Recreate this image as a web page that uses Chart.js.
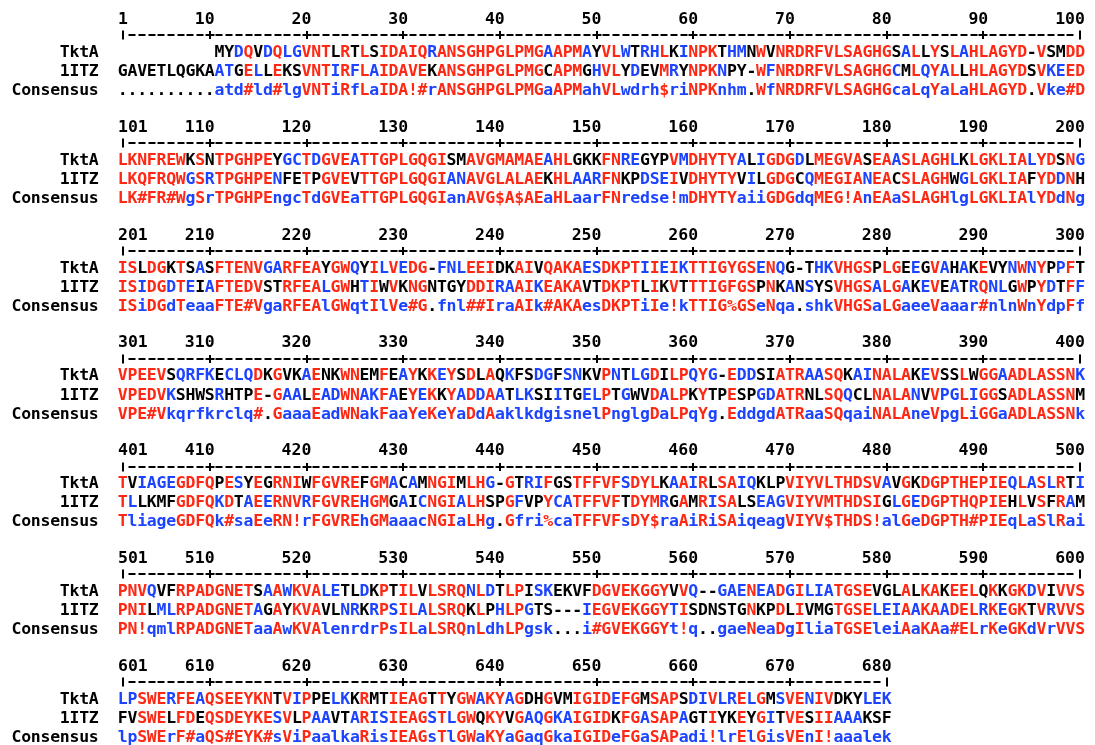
<!DOCTYPE html>
<html>
<head>
<meta charset="utf-8">
<title>TktA / 1ITZ alignment</title>
<script src="https://cdn.jsdelivr.net/npm/chart.js@4.4.1/dist/chart.umd.min.js"></script>
<style>
  html, body { margin: 0; padding: 0; background: #ffffff; }
  canvas { display: block; }
</style>
</head>
<body>
<canvas id="aln" width="1095" height="745"></canvas>
<script>
// Aligned sequences, one string per block of 100 columns (leading blanks = no residue)
const tktA = [
  "          MYDQVDQLGVNTLRTLSIDAIQRANSGHPGLPMGAAPMAYVLWTRHLKINPKTHMNWVNRDRFVLSAGHGSALLYSLAHLAGYD-VSMDD",
  "LKNFREWKSNTPGHPEYGCTDGVEATTGPLGQGISMAVGMAMAEAHLGKKFNREGYPVMDHYTYALIGDGDLMEGVASEAASLAGHLKLGKLIALYDSNG",
  "ISLDGKTSASFTENVGARFEAYGWQYILVEDG-FNLEEIDKAIVQAKAESDKPTIIEIKTTIGYGSENQG-THKVHGSPLGEEGVAHAKEVYNWNYPPFT",
  "VPEEVSQRFKECLQDKGVKAENKWNEMFEAYKKEYSDLAQKFSDGFSNKVPNTLGDILPQYG-EDDSIATRAASQKAINALAKEVSSLWGGAADLASSNK",
  "TVIAGEGDFQPESYEGRNIWFGVREFGMACAMNGIMLHG-GTRIFGSTFFVFSDYLKAAIRLSAIQKLPVIYVLTHDSVAVGKDGPTHEPIEQLASLRTI",
  "PNVQVFRPADGNETSAAWKVALETLDKPTILVLSRQNLDTLPISKEKVFDGVEKGGYVVQ--GAENEADGILIATGSEVGLALKAKEELQKKGKDVIVVS",
  "LPSWERFEAQSEEYKNTVIPPELKKRMTIEAGTTYGWAKYAGDHGVMIGIDEFGMSAPSDIVLRELGMSVENIVDKYLEK"
];
const itz = [
  "GAVETLQGKAATGELLEKSVNTIRFLAIDAVEKANSGHPGLPMGCAPMGHVLYDEVMRYNPKNPY-WFNRDRFVLSAGHGCMLQYALLHLAGYDSVKEED",
  "LKQFRQWGSRTPGHPENFETPGVEVTTGPLGQGIANAVGLALAEKHLAARFNKPDSEIVDHYTYVILGDGCQMEGIANEACSLAGHWGLGKLIAFYDDNH",
  "ISIDGDTEIAFTEDVSTRFEALGWHTIWVKNGNTGYDDIRAAIKEAKAVTDKPTLIKVTTTIGFGSPNKANSYSVHGSALGAKEVEATRQNLGWPYDTFF",
  "VPEDVKSHWSRHTPE-GAALEADWNAKFAEYEKKYADDAATLKSIITGELPTGWVDALPKYTPESPGDATRNLSQQCLNALANVVPGLIGGSADLASSNM",
  "TLLKMFGDFQKDTAEERNVRFGVREHGMGAICNGIALHSPGFVPYCATFFVFTDYMRGAMRISALSEAGVIYVMTHDSIGLGEDGPTHQPIEHLVSFRAM",
  "PNILMLRPADGNETAGAYKVAVLNRKRPSILALSRQKLPHLPGTS---IEGVEKGGYTISDNSTGNKPDLIVMGTGSELEIAAKAADELRKEGKTVRVVS",
  "FVSWELFDEQSDEYKESVLPAAVTARISIEAGSTLGWQKYVGAQGKAIGIDKFGASAPAGTIYKEYGITVESIIAAAKSF"
];
const consensus = [
  "..........atd#ld#lgVNTiRfLaIDA!#rANSGHPGLPMGaAPMahVLwdrh$riNPKnhm.WfNRDRFVLSAGHGcaLqYaLaHLAGYD.Vke#D",
  "LK#FR#WgSrTPGHPEngcTdGVEaTTGPLGQGIanAVG$A$AEaHLaarFNredse!mDHYTYaiiGDGdqMEG!AnEAaSLAGHlgLGKLIAlYDdNg",
  "ISiDGdTeaaFTE#VgaRFEAlGWqtIlVe#G.fnl##IraAIk#AKAesDKPTiIe!kTTIG%GSeNqa.shkVHGSaLGaeeVaaar#nlnWnYdpFf",
  "VPE#Vkqrfkrclq#.GaaaEadWNakFaaYeKeYaDdAaklkdgisnelPnglgDaLPqYg.EddgdATRaaSQqaiNALAneVpgLiGGaADLASSNk",
  "TliageGDFQk#saEeRN!rFGVREhGMaaacNGIaLHg.Gfri%caTFFVFsDY$raAiRiSAiqeagVIYV$THDS!alGeDGPTH#PIEqLaSlRai",
  "PN!qmlRPADGNETaaAwKVAlenrdrPsILaLSRQnLdhLPgsk...i#GVEKGGYt!q..gaeNeaDgIliaTGSEleiAaKAa#ELrKeGKdVrVVS",
  "lpSWErF#aQS#EYK#sViPaalkaRisIEAGsTlGWaKYaGaqGkaIGIDeFGaSAPadi!lrElGisVEnI!aaalek"
];
const rowLabels = ["TktA", "1ITZ", "Consensus"];
const blockSize = 100;
const tickStep = 10;

// Consensus symbol groups: ! = I/V, $ = L/M, % = F/Y, # = N/D/Q/E/B/Z
const symbolGroups = { "!": "IV", "$": "LM", "%": "FY", "#": "NDQEBZ" };

const RED = "#ff2814";
const BLUE = "#1c44ff";
const BLACK = "#000000";

// Vertical layout in text-line units
const BLOCK_PITCH = 5.645;
const ROW_NUMBERS = -1.73;
const ROW_RULER = -1.14;
const LABEL_END_COL = -2;

function consensusColor(c) {
  if (c === "." || c === " ") return BLACK;
  if (symbolGroups[c]) return RED;
  return c === c.toUpperCase() ? RED : BLUE;
}

function residueColor(r, c) {
  if (r === "-" || r === " " || c === "." || c === " ") return BLACK;
  if (symbolGroups[c]) return symbolGroups[c].includes(r) ? RED : BLACK;
  if (r !== c.toUpperCase()) return BLACK;
  return c === c.toUpperCase() ? RED : BLUE;
}

const datasets = [];
consensus.forEach((cons, b) => {
  const base = b * BLOCK_PITCH;
  const rows = [tktA[b], itz[b], cons];
  rows.forEach((seq, r) => {
    const pts = [];
    for (let i = 0; i < seq.length; i++) {
      const ch = seq[i];
      if (ch === " ") continue;
      const color = r === 2 ? consensusColor(ch) : residueColor(ch, cons[i]);
      pts.push({ x: i + 1, y: base + r, ch: ch, color: color });
    }
    datasets.push({ kind: "text", data: pts });
    // row label, placed right-to-left ending at LABEL_END_COL
    const lab = rowLabels[r];
    const lpts = [];
    for (let k = 0; k < lab.length; k++) {
      lpts.push({ x: LABEL_END_COL - (lab.length - 1 - k), y: base + r, ch: lab[k], color: BLACK });
    }
    datasets.push({ kind: "text", data: lpts });
  });
  // ruler and position numbers
  const len = cons.length;
  const ruler = [];
  const nums = [];
  for (let i = 1; i <= len; i++) {
    const pos = b * blockSize + i;
    let mark = "-";
    if (i === 1 || i === len) mark = "|";
    else if (pos % tickStep === 0) mark = "+";
    ruler.push({ x: i, y: base + ROW_RULER, mark: mark });
    if (i === 1) nums.push({ x: i, y: base + ROW_NUMBERS, label: String(pos), align: "left" });
    else if (pos % tickStep === 0) nums.push({ x: i, y: base + ROW_NUMBERS, label: String(pos), align: "right" });
  }
  datasets.push({ kind: "ruler", data: ruler });
  datasets.push({ kind: "numbers", data: nums });
});

const FONT = 'bold 15px "DejaVu Sans Mono", "Liberation Mono", monospace';
const STRETCH = 1.1; // glyphs drawn slightly wider than the font's own shape

function stretchedText(ctx, text, x, y, align) {
  ctx.save();
  ctx.translate(x, y);
  ctx.scale(STRETCH, 1);
  ctx.textAlign = align;
  ctx.fillText(text, 0, 0);
  ctx.restore();
}

const alignmentPainter = {
  id: "alignmentPainter",
  afterDatasetsDraw(chart) {
    const ctx = chart.ctx;
    const xs = chart.scales.x;
    const pitch = xs.getPixelForValue(1) - xs.getPixelForValue(0);
    ctx.save();
    ctx.font = FONT;
    ctx.textBaseline = "alphabetic";
    chart.data.datasets.forEach((ds, di) => {
      const meta = chart.getDatasetMeta(di);
      meta.data.forEach((el, j) => {
        const p = ds.data[j];
        const x = el.x, y = el.y;
        if (ds.kind === "text") {
          ctx.fillStyle = p.color;
          stretchedText(ctx, p.ch, x, y, "center");
        } else if (ds.kind === "numbers") {
          ctx.fillStyle = BLACK;
          stretchedText(ctx, p.label, p.align === "left" ? x - pitch / 2 : x + pitch / 2, y, p.align);
        } else if (ds.kind === "ruler") {
          ctx.fillStyle = BLACK;
          const cy = Math.round(y);
          const cx = Math.round(x);
          if (p.mark === "-") {
            ctx.fillRect(cx - 3.5, cy - 1, 7, 2);
          } else if (p.mark === "+") {
            ctx.fillRect(cx - 4.5, cy - 1, 9, 2);
            ctx.fillRect(cx - 1, cy - 4, 2, 8);
          } else {
            ctx.fillRect(cx - 1, cy - 4.5, 2, 9);
          }
        }
      });
    });
    ctx.restore();
  }
};

const LINE_PX = 19.1;
const yMin = -57 / LINE_PX;
const yMax = yMin + 745 / LINE_PX;
const colPx = 9.67;
const xMin = 1 - 122.8 / colPx;
const xMax = xMin + 1095 / colPx;

new Chart(document.getElementById("aln"), {
  type: "scatter",
  data: { datasets: datasets },
  options: {
    responsive: false,
    animation: false,
    events: [],
    layout: { padding: 0 },
    elements: { point: { radius: 0, hoverRadius: 0 } },
    scales: {
      x: { type: "linear", min: xMin, max: xMax, display: false },
      y: { type: "linear", min: yMin, max: yMax, reverse: true, display: false }
    },
    plugins: { legend: { display: false }, tooltip: { enabled: false } }
  },
  plugins: [alignmentPainter]
});
</script>
</body>
</html>
